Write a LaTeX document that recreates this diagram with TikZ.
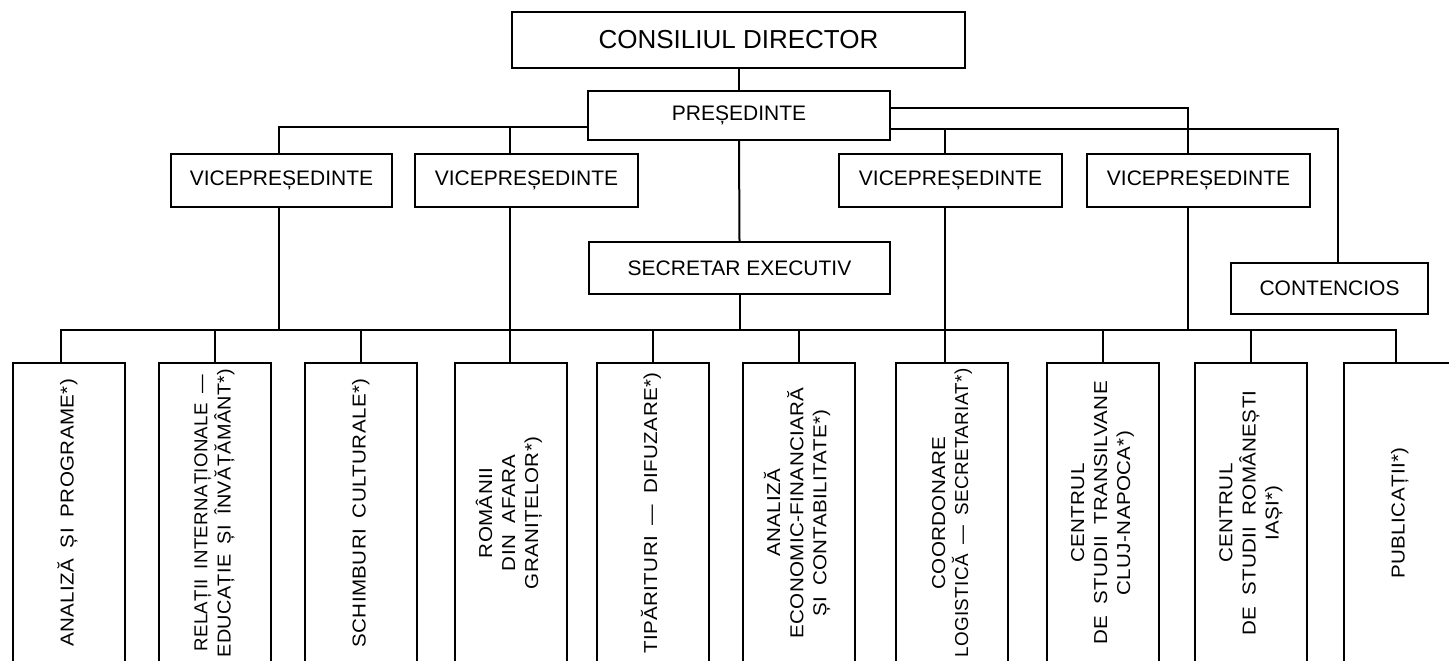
\documentclass[tikz,border=0pt]{standalone}
\usepackage{fontspec,graphicx}
\setmainfont{Liberation Sans}
\newfontfamily\deptfont[FakeStretch=1.1,LetterSpace=2,WordSpace=1.8]{Liberation Sans}
\newcommand{\vlabel}[1]{\rotatebox{90}{\begin{tabular}{@{}c@{}}#1\end{tabular}}}
\newcommand{\fitline}[2]{\resizebox{#1}{\height}{#2}}
\tikzset{
    topbox/.style={draw,line width=2pt,inner sep=0pt,minimum height=53pt,font=\fontsize{21}{25}\selectfont},
    unitbox/.style={draw,line width=2pt,inner sep=0pt,minimum width=112pt,minimum height=300pt,font=\deptfont\fontsize{18.7}{23}\selectfont},
    link/.style={line width=2pt}
}

\begin{document}
\begin{tikzpicture}[x=1pt,y=-1pt]
                    \useasboundingbox (0,0) rectangle (1449,661);
                    \clip (0,0) rectangle (1449,661);
                    \node[topbox,minimum width=453pt,minimum height=56pt,font=\fontsize{26}{30}\selectfont] (cd) at (738.5,40) {CONSILIUL DIRECTOR};
                    \node[topbox,minimum width=302pt,minimum height=49pt] (pres) at (739,115.5) {PREȘEDINTE};
                    \node[topbox,minimum width=221pt] (vp1) at (281.5,180.5) {VICEPREȘEDINTE};
                    \node[topbox,minimum width=223pt] (vp2) at (526.5,180.5) {VICEPREȘEDINTE};
                    \node[topbox,minimum width=223pt] (vp3) at (950.5,180.5) {VICEPREȘEDINTE};
                    \node[topbox,minimum width=223pt] (vp4) at (1198.5,180.5) {VICEPREȘEDINTE};
                    \node[topbox,minimum width=301pt,minimum height=52pt] (secr) at (739.5,268) {SECRETAR EXECUTIV};
                    \node[topbox,minimum width=197pt,minimum height=51pt] (cont) at (1329.5,288.5) {CONTENCIOS};
                    \node[unitbox] (b1) at (69,513) {\vlabel{ANALIZĂ ȘI PROGRAME*)}};
                    \node[unitbox] (b2) at (214.5,513) {\vlabel{\fitline{277pt}{RELAȚII INTERNAȚIONALE —}\\\fitline{289pt}{EDUCAȚIE ȘI ÎNVĂȚĂMÂNT*)}}};
                    \node[unitbox] (b3) at (361,513) {\vlabel{SCHIMBURI CULTURALE*)}};
                    \node[unitbox] (b4) at (510.5,513) {\vlabel{ROMÂNII\\DIN AFARA\\GRANIȚELOR*)}};
                    \node[unitbox] (b5) at (652.5,513) {\vlabel{TIPĂRITURI — DIFUZARE*)}};
                    \node[unitbox] (b6) at (798.5,513) {\vlabel{ANALIZĂ\\ECONOMIC-FINANCIARĂ\\ȘI CONTABILITATE*)}};
                    \node[unitbox] (b7) at (952,513) {\vlabel{COORDONARE\\\fitline{289pt}{LOGISTICĂ — SECRETARIAT*)}}};
                    \node[unitbox] (b8) at (1102.5,513) {\vlabel{CENTRUL\\DE STUDII TRANSILVANE\\CLUJ-NAPOCA*)}};
                    \node[unitbox] (b9) at (1251,513) {\vlabel{CENTRUL\\DE STUDII ROMÂNEȘTI\\IAȘI*)}};
                    \node[unitbox] (b10) at (1400,513) {\vlabel{PUBLICAȚII*)}};
                    \coordinate (lbar) at (279,127);
                    \coordinate (rtop) at (1188,108);
                    \coordinate (rlow) at (1338,129);
                    \coordinate (busL) at (61,330);
                    \coordinate (busR) at (1396,330);
                    \draw[link] (cd.south) -- (cd.south |- pres.north);
                    \draw[link] (pres.west |- lbar) -| (vp1.north -| lbar);
                    \draw[link] ([xshift=-17pt]vp2.north) -- ([xshift=-17pt]vp2.north |- lbar);
                    \draw[link] (pres.east |- rtop) -| (vp4.north -| rtop);
                    \draw[link] (pres.east |- rlow) -| (cont.north -| rlow);
                    \draw[link] ([xshift=-6pt]vp3.north) -- ([xshift=-6pt]vp3.north |- rlow);
                    \draw[link] (pres.south) -- (secr.north);
                    \draw[link] (secr.south) -- (secr.south |- busL);
                    \draw[link] (b1.north -| busL) |- (busR) -- (b10.north -| busR);
                    \foreach \b in {b2,b3,b5,b6,b8,b9}
                        \draw[link] (\b.north) -- (\b.north |- busL);
                    \draw[link] (vp1.south -| lbar) -- (lbar |- busL);
                    \draw[link] ([xshift=-17pt]vp2.south) -- ([xshift=-17pt]vp2.south |- b4.north);
                    \draw[link] ([xshift=-6pt]vp3.south) -- ([xshift=-6pt]vp3.south |- b7.north);
                    \draw[link] (vp4.south -| rtop) -- (rtop |- busL);
\end{tikzpicture}
\end{document}
